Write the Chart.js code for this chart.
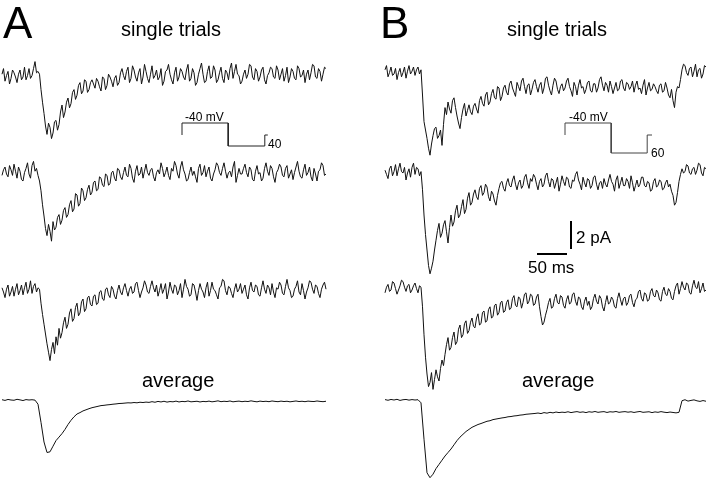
<!DOCTYPE html>
<html>
<head>
<meta charset="utf-8">
<script src="https://cdn.jsdelivr.net/npm/chart.js@4.4.1/dist/chart.umd.min.js"></script>
<style>
  body { margin: 0; background: #fff; }
  #wrap { position: relative; width: 720px; height: 484px; overflow: hidden; }
  #traces { position: absolute; left: 0; top: 0; }
  .lbl { position: absolute; font-family: "Liberation Sans", Arial, sans-serif; color: #000; line-height: 1; white-space: nowrap; }
  .panel { font-size: 44px; }
  .head { font-size: 20px; }
  .small { font-size: 12px; }
  .bar { font-size: 17px; }
</style>
</head>
<body>
<div id="wrap">
  <canvas id="traces" width="720" height="484"></canvas>
  <div class="lbl panel" style="left:3px;top:1px">A</div>
  <div class="lbl panel" style="left:380px;top:1px">B</div>
  <div class="lbl head" style="left:121px;top:19px">single trials</div>
  <div class="lbl head" style="left:507px;top:19px">single trials</div>
  <div class="lbl head" style="left:142px;top:370px">average</div>
  <div class="lbl head" style="left:522px;top:370px">average</div>
  <div class="lbl small" style="left:185px;top:111px">-40 mV</div>
  <div class="lbl small" style="left:268px;top:138px">40</div>
  <div class="lbl small" style="left:569px;top:111px">-40 mV</div>
  <div class="lbl small" style="left:651px;top:147px">60</div>
  <div class="lbl bar" style="left:576px;top:229px">2 pA</div>
  <div class="lbl bar" style="left:528px;top:259px">50 ms</div>
</div>
<script>
// sampling steps (ms): single trials are read finer than the averages
var DT_TRIAL = 2.5;
var DT_AVG = 5;

// currents in pA relative to each trace's baseline
var trialA1 = [
  0.2,0.6,-0.3,0.1,0.4,-0.5,-0.1,0.5,0.3,0.0,-0.4,0.2,0.5,-0.2,0.0,0.7,-0.2,0.1,0.6,-0.1,
  0.1,0.6,1.1,0.3,0.4,0.2,-0.9,-1.8,-2.6,-3.5,-4.1,-3.3,-3.6,-4.4,-4.0,-3.2,-3.1,-3.8,-3.4,-2.5,
  -2.0,-2.9,-2.5,-1.8,-1.5,-2.2,-1.9,-1.1,-0.9,-1.6,-1.3,-0.6,-0.4,-1.2,-1.0,-0.2,-0.3,-1.1,-0.9,-0.4,
  -0.2,-0.5,-0.8,-0.1,-0.3,-0.7,-1.0,0.0,-0.1,-0.9,-0.6,0.2,0.0,-0.3,-0.7,-0.1,0.1,-0.6,-0.4,0.3,
  0.6,0.1,-0.2,0.4,0.7,-0.4,-0.1,0.8,0.5,0.0,-0.3,0.3,0.6,-0.5,0.0,0.9,0.4,-0.1,-0.4,0.2,
  0.8,-0.1,0.1,0.5,-0.2,0.0,0.6,-0.6,-0.3,0.4,0.5,0.9,0.2,-0.2,-0.5,0.3,0.7,-0.3,0.0,0.6,
  0.4,0.0,-0.2,0.5,0.9,-0.3,-0.1,0.6,0.3,-0.6,-0.4,0.2,0.6,1.0,0.2,-0.4,-0.3,0.4,0.8,-0.1,
  0.0,0.8,0.5,-0.4,-0.2,0.3,0.7,-0.1,-0.4,0.5,0.3,-0.2,0.6,1.0,-0.1,0.4,0.9,0.2,0.1,-0.5,
  -0.3,0.2,0.5,-0.1,0.2,0.9,0.8,0.0,-0.2,0.6,0.4,-0.3,0.0,0.5,0.7,-0.2,-0.5,0.1,0.3,0.7,
  0.6,0.0,-0.1,0.8,0.5,-0.2,0.2,0.6,-0.3,0.1,0.7,-0.4,0.0,0.6,0.4,-0.1,-0.2,0.8,0.6,0.0,
  0.1,0.5,-0.4,0.2,0.5,-0.2,0.3,0.9,0.8,0.0,-0.1,0.6,0.4,-0.3,0.2,0.7,0.6
];
var trialA2 = [
  -0.1,0.3,0.5,0.0,-0.2,0.6,0.3,-0.1,0.7,0.2,-0.3,0.5,0.2,-0.4,-0.5,0.1,0.4,0.8,0.0,-0.3,
  0.6,0.9,0.2,0.4,-0.1,-0.5,-1.2,-2.2,-3.0,-3.9,-4.4,-3.6,-4.1,-4.8,-3.4,-4.0,-3.8,-3.1,-2.9,-3.6,
  -3.3,-2.6,-2.4,-3.1,-2.9,-2.2,-1.9,-2.7,-2.5,-1.4,-1.5,-2.3,-2.1,-1.0,-1.2,-1.9,-1.7,-1.1,-0.8,-1.5,
  -1.3,-0.6,-0.5,-1.2,-1.1,-0.2,-0.3,-0.8,-0.9,0.0,-0.1,-0.8,-0.7,0.1,0.2,-0.3,-0.5,0.4,0.3,-0.2,
  -0.4,0.1,0.5,-0.1,-0.2,0.7,0.4,-0.3,-0.6,0.2,0.6,-0.1,0.0,0.5,-0.3,0.2,0.7,0.1,-0.1,0.3,
  0.4,-0.2,-0.5,0.1,0.3,0.0,0.8,0.4,-0.2,0.1,0.5,-0.1,-0.4,0.4,0.2,0.9,0.6,0.0,-0.3,0.5,
  0.9,0.3,0.0,-0.5,-0.4,0.1,0.5,-0.1,0.2,-0.2,-0.6,0.4,0.7,-0.1,0.1,0.6,-0.2,0.2,0.5,-0.3,
  -0.5,0.0,0.3,0.8,0.6,0.1,-0.1,0.4,0.8,0.2,-0.3,0.1,0.2,-0.2,0.5,0.9,-0.6,-0.1,0.4,0.0,
  0.0,0.4,0.7,0.1,-0.2,0.5,0.3,-0.4,-0.5,0.2,0.6,0.0,0.1,-0.5,-0.3,0.4,0.8,0.2,-0.1,0.6,
  0.4,-0.2,-0.6,0.1,0.3,0.7,0.5,-0.1,-0.2,0.4,0.6,-0.3,0.0,0.3,-0.4,0.1,0.5,0.9,0.2,-0.2,
  -0.3,0.3,0.7,-0.1,0.1,0.5,-0.2,-0.5,0.4,0.0,-0.5,0.2,0.3,0.8,0.6,-0.1,0.0
];
var trialA3 = [
  0.3,0.0,-0.4,0.2,0.5,-0.3,0.0,0.4,-0.3,0.2,0.6,-0.2,0.1,0.5,-0.2,0.3,0.7,-0.1,0.2,0.8,
  -0.1,0.4,0.6,0.0,0.3,0.2,-0.8,-1.6,-2.3,-3.0,-3.7,-4.3,-4.9,-4.1,-3.6,-4.4,-3.2,-3.8,-2.6,-3.3,
  -2.9,-2.2,-1.8,-2.6,-2.3,-1.5,-1.2,-2.1,-1.9,-1.1,-0.8,-1.7,-1.5,-0.7,-0.5,-1.4,-1.2,-0.4,-0.3,-0.9,
  -1.0,-0.3,-0.2,-0.9,-0.8,0.0,0.1,-0.5,-0.6,0.2,0.3,-0.2,-0.4,0.4,0.2,-0.3,-0.5,0.1,0.5,0.0,
  -0.2,0.3,0.6,0.1,-0.3,0.2,0.4,-0.1,0.0,0.6,0.7,0.1,-0.4,0.0,0.3,0.8,0.5,0.0,-0.1,0.4,
  0.8,0.3,0.0,0.5,-0.3,0.1,0.6,-0.1,0.2,0.6,-0.5,0.0,0.7,0.2,-0.1,0.5,0.4,-0.2,0.1,0.6,
  -0.4,0.2,0.9,0.4,0.2,-0.3,-0.2,0.6,0.5,0.0,-0.6,0.1,0.6,0.2,0.0,-0.4,0.3,0.7,-0.3,0.1,
  0.7,0.2,0.1,-0.2,-0.5,0.3,0.4,0.9,0.8,0.1,-0.2,0.4,0.3,-0.1,-0.4,0.2,0.6,0.0,0.2,0.6,
  -0.1,0.2,0.5,-0.2,-0.5,0.3,0.7,0.1,0.0,0.5,0.4,-0.2,-0.3,0.3,0.8,0.2,-0.1,0.5,0.3,-0.2,
  0.6,0.0,-0.4,0.3,0.2,0.7,0.5,-0.1,-0.2,0.4,0.9,0.3,0.1,-0.4,-0.3,0.2,0.4,0.8,0.0,-0.2,
  0.6,0.1,-0.5,0.0,0.3,0.8,0.7,0.2,-0.1,0.5,0.4,-0.1,-0.4,0.2,0.5,0.7,0.2
];
var averageA = [
  0.02,-0.03,0.04,0.0,-0.02,0.05,0.01,-0.04,0.03,0.0,
  0.02,-0.01,-0.3,-1.6,-3.0,-3.75,-3.7,-3.3,-2.9,-2.65,
  -2.4,-2.1,-1.75,-1.45,-1.2,-1.0,-0.9,-0.78,-0.7,-0.62,
  -0.55,-0.5,-0.45,-0.4,-0.38,-0.35,-0.33,-0.3,-0.28,-0.25,
  -0.24,-0.22,-0.2,-0.21,-0.18,-0.2,-0.16,-0.18,-0.15,-0.17,
  -0.12,-0.16,-0.1,-0.14,-0.09,-0.15,-0.11,-0.13,-0.08,-0.14,
  -0.1,-0.12,-0.07,-0.13,-0.11,-0.09,-0.14,-0.1,-0.12,-0.08,
  -0.13,-0.1,-0.06,-0.12,-0.09,-0.11,-0.07,-0.13,-0.1,-0.08,
  -0.12,-0.09,-0.11,-0.06,-0.1,-0.13,-0.08,-0.11,-0.09,-0.12,
  -0.07,-0.1,-0.12,-0.08,-0.11,-0.09,-0.13,-0.1,-0.07,-0.11,
  -0.09,-0.12,-0.08,-0.1,-0.11,-0.07,-0.1,-0.12,-0.09
];
var trialB1 = [
  0.3,0.6,-0.2,0.1,0.5,-0.1,0.0,0.4,-0.4,0.1,0.4,-0.2,0.1,0.5,-0.3,0.2,0.6,0.0,0.2,0.5,
  -0.1,0.3,0.5,0.0,0.3,-1.5,-3.4,-4.0,-4.6,-5.3,-5.8,-5.0,-4.4,-3.9,-3.8,-4.6,-4.4,-4.0,-5.1,-3.6,
  -2.4,-2.9,-2.0,-2.5,-2.8,-1.9,-1.7,-2.4,-3.0,-3.5,-3.9,-3.1,-2.5,-2.1,-3.0,-2.6,-2.2,-2.7,-2.9,-2.3,
  -2.1,-2.5,-2.8,-1.9,-1.6,-2.1,-2.3,-1.5,-1.3,-2.2,-2.0,-1.4,-1.1,-1.7,-1.8,-0.9,-1.0,-1.9,-1.6,-1.0,
  -0.8,-1.3,-1.5,-0.7,-0.5,-1.0,-1.3,-1.6,-0.6,-0.9,-1.2,-0.5,-0.3,-0.9,-1.4,-0.8,-0.7,-1.5,-1.1,-0.6,
  -0.4,-0.9,-1.3,-0.8,-0.6,-1.4,-1.0,-0.3,-0.2,-0.8,-1.2,-1.5,-0.8,-0.3,-0.5,-1.1,-1.4,-0.9,-0.7,-1.2,
  -1.0,-0.5,-0.3,-0.9,-1.2,-1.6,-0.6,-0.9,-1.5,-0.8,-0.4,-1.0,-0.9,-1.4,-1.1,-0.6,-0.5,-1.2,-1.3,-0.7,
  -0.7,-1.3,-1.0,-0.4,-0.2,-0.8,-1.2,-0.6,-0.8,-1.3,-0.5,-0.9,-1.4,-1.0,-0.6,-1.2,-1.1,-0.5,-0.4,-1.0,
  -1.2,-0.6,-0.7,-1.1,-0.9,-0.5,-1.3,-0.8,-0.5,-1.1,-1.0,-1.4,-0.8,-0.4,-1.5,-1.0,-0.6,-1.2,-1.1,-0.7,
  -0.9,-1.2,-1.4,-0.8,-0.7,-1.3,-1.2,-0.6,-1.0,-1.5,-1.7,-1.1,-1.9,-2.4,-1.3,-0.9,-1.0,-0.4,0.3,0.7,
  0.6,0.1,-0.1,0.4,0.5,-0.2,0.2,0.7,-0.2,0.3,0.4,-0.3,0.0,0.6,0.5
];
var trialB2 = [
  0.2,-0.1,-0.4,0.3,0.5,-0.2,0.1,0.6,-0.2,0.3,0.7,0.1,0.0,0.4,-0.5,0.0,0.3,-0.3,0.4,0.7,
  -0.1,0.4,0.3,-0.2,0.1,-1.2,-3.0,-4.4,-5.5,-6.6,-7.2,-6.8,-6.3,-5.5,-4.8,-4.1,-3.6,-4.6,-4.3,-3.7,
  -3.4,-4.2,-5.0,-3.9,-3.0,-3.8,-3.5,-2.7,-2.3,-3.2,-3.0,-2.4,-1.9,-2.9,-2.6,-1.8,-1.4,-2.3,-2.1,-1.5,
  -1.2,-1.7,-1.9,-1.1,-0.9,-1.6,-1.4,-0.8,-1.0,-1.7,-2.0,-1.3,-1.5,-2.0,-2.3,-1.6,-1.1,-0.7,-0.6,-1.1,
  -1.3,-0.7,-0.4,-0.9,-1.0,-0.5,-0.2,-0.8,-1.2,-0.7,-0.5,-1.1,-0.9,-0.3,-0.1,-0.7,-1.1,-0.4,-0.6,-0.1,
  -0.3,-0.8,-1.2,-0.6,-0.4,-1.0,-0.8,-0.2,0.0,-0.6,-1.0,-0.4,-0.5,-1.1,-0.7,-0.3,-1.3,-0.8,-0.2,-0.6,
  -0.9,-0.3,-0.4,-1.0,-1.1,-0.5,-0.6,-0.1,0.1,-0.5,-0.8,-1.2,-0.3,-0.7,-1.0,-0.4,-0.5,-1.1,-0.9,-0.3,
  -0.2,-0.8,-1.2,-0.7,-0.6,-1.1,-0.4,-0.8,-1.0,-0.5,-0.1,-0.6,-0.8,-1.3,-0.5,-0.2,-1.1,-0.7,-0.3,-0.9,
  -0.9,-0.4,-0.6,-1.1,-0.2,-0.7,-1.3,-0.9,-0.5,-1.0,-0.8,-0.3,-0.3,-0.9,-1.0,-0.6,-0.7,-1.3,-1.2,-0.6,
  -0.4,-1.0,-0.9,-0.5,-0.6,-1.2,-1.1,-0.7,-0.5,-1.0,-0.8,-1.3,-1.6,-2.3,-2.1,-1.4,-0.6,-0.1,0.3,0.0,
  0.1,0.6,0.5,0.0,-0.1,0.3,0.4,-0.1,0.2,0.7,0.6,0.0,-0.2,0.4,0.3
];
var trialB3 = [
  -0.2,0.2,0.4,-0.1,0.0,0.6,0.5,0.1,-0.3,0.0,0.3,0.7,0.6,0.2,-0.1,0.3,0.4,-0.2,0.0,0.3,
  0.5,0.1,-0.2,0.3,0.2,-1.2,-3.2,-4.8,-6.0,-6.9,-6.6,-5.9,-7.1,-6.4,-5.7,-6.2,-6.5,-5.6,-5.0,-5.4,
  -4.6,-3.9,-3.4,-4.3,-4.1,-3.4,-3.0,-3.9,-3.7,-2.8,-2.5,-3.4,-3.2,-2.4,-2.2,-3.1,-2.9,-2.3,-2.0,-2.6,
  -2.7,-2.0,-1.7,-2.5,-2.4,-1.6,-1.5,-2.3,-2.2,-1.4,-1.2,-2.0,-1.9,-1.1,-1.0,-1.8,-1.6,-0.9,-0.8,-1.6,
  -1.5,-0.9,-0.7,-1.4,-1.3,-0.6,-0.4,-1.1,-1.2,-0.5,-0.6,-1.3,-0.9,-0.3,-0.2,-1.0,-0.8,-0.3,-0.4,-1.1,
  -1.0,-0.5,-0.3,-1.2,-1.9,-2.5,-2.3,-1.8,-1.4,-0.9,-0.6,-1.3,-1.2,-0.6,-0.3,-0.9,-1.0,-0.4,-0.5,-1.1,
  -1.3,-0.7,-0.4,-1.0,-0.9,-0.3,-0.2,-0.8,-1.1,-0.5,-0.6,-1.2,-1.4,-0.8,-0.5,-1.1,-0.8,-1.4,-1.2,-0.6,
  -0.3,-0.8,-1.0,-0.4,-0.6,-1.2,-1.5,-0.9,-0.4,-1.0,-0.9,-0.5,-0.7,-1.2,-1.3,-0.6,-0.2,-0.7,-1.1,-0.6,
  -0.5,-1.1,-0.9,-0.4,-0.3,-0.9,-1.2,-0.7,-0.6,-0.1,0.0,-0.6,-0.8,-0.2,-0.3,-0.8,-0.7,-0.1,0.1,-0.4,
  -0.5,0.0,-0.2,-0.7,-0.8,-0.1,0.2,-0.3,-0.4,0.1,-0.1,-0.6,-0.7,-0.1,0.3,0.5,-0.3,0.1,0.6,0.2,
  0.0,0.5,0.4,-0.2,-0.3,0.3,0.7,0.2,0.1,0.6,-0.2,0.1,0.5,-0.1,0.0
];
var averageB = [
  0.03,-0.02,0.04,0.0,0.05,-0.03,0.02,0.04,-0.01,0.03,
  0.0,0.02,-0.2,-2.8,-5.2,-5.55,-5.3,-4.9,-4.6,-4.3,
  -4.0,-3.75,-3.5,-3.2,-2.9,-2.65,-2.45,-2.25,-2.1,-1.95,
  -1.85,-1.75,-1.68,-1.6,-1.52,-1.48,-1.4,-1.36,-1.32,-1.28,
  -1.25,-1.2,-1.18,-1.14,-1.12,-1.08,-1.06,-1.02,-1.0,-0.98,
  -0.96,-0.93,-0.97,-0.9,-0.94,-0.88,-0.92,-0.86,-0.9,-0.87,
  -0.89,-0.84,-0.9,-0.86,-0.83,-0.88,-0.85,-0.9,-0.84,-0.87,
  -0.82,-0.88,-0.85,-0.83,-0.89,-0.84,-0.86,-0.82,-0.88,-0.85,
  -0.83,-0.87,-0.84,-0.89,-0.85,-0.82,-0.88,-0.86,-0.84,-0.9,
  -0.85,-0.88,-0.83,-0.87,-0.9,-0.86,-0.89,-0.92,-0.88,-0.05,
  0.02,-0.08,-0.03,0.01,-0.06,-0.1,-0.04,-0.09
];

// voltage protocols (ms, mV)
var protoTimesA = [0, 0, 77, 77, 138, 138, 143];
var protoVoltsA = [-64, -40, -40, -86, -86, -64, -64];
var protoTimesB = [0, 0, 77, 77, 137, 137, 145];
var protoVoltsB = [-64, -40, -40, -100, -100, -64, -64];

// scale bars
var barMs = 50;
var barPa = 2;

// ---- layout (pixels of the 720x484 figure) ----
var PX_PER_MS = 0.6, PX_PER_PA = 14, PX_PER_MV = 0.5;
var traceLeft = { A: 2, B: 385 };
var baselineA = [77, 174, 292, 400];
var baselineB = [74, 173, 290, 400];
var protoLeft = { A: 182, B: 565 };
var protoTopPx = 123;          // where -40 mV sits
var vBarPos = { x: 571, y: 221 };
var hBarPos = { x: 537, y: 254 };

function msAt(px) { return px / PX_PER_MS; }
function paAt(px) { return -px / PX_PER_PA; }

function traceData(values, dt, leftPx, basePx) {
    var t0 = msAt(leftPx), off = paAt(basePx);
    return values.map(function(v, i) { return { x: t0 + i * dt, y: off + v }; });
}

function protoData(times, volts, leftPx) {
    var t0 = msAt(leftPx);
    return times.map(function(t, i) { return { x: t0 + t, y: volts[i] }; });
}

function line(data, width, color, axis) {
    return {
        data: data,
        showLine: true,
        borderColor: color || '#111',
        borderWidth: width || 1,
        pointRadius: 0,
        tension: 0,
        yAxisID: axis || 'y'
    };
}

var datasets = [
    line(traceData(trialA1, DT_TRIAL, traceLeft.A, baselineA[0])),
    line(traceData(trialA2, DT_TRIAL, traceLeft.A, baselineA[1])),
    line(traceData(trialA3, DT_TRIAL, traceLeft.A, baselineA[2])),
    line(traceData(averageA, DT_AVG, traceLeft.A, baselineA[3])),
    line(traceData(trialB1, DT_TRIAL, traceLeft.B, baselineB[0])),
    line(traceData(trialB2, DT_TRIAL, traceLeft.B, baselineB[1])),
    line(traceData(trialB3, DT_TRIAL, traceLeft.B, baselineB[2])),
    line(traceData(averageB, DT_AVG, traceLeft.B, baselineB[3])),
    line(protoData(protoTimesA, protoVoltsA, protoLeft.A), 1, '#222', 'yV'),
    line(protoData(protoTimesB, protoVoltsB, protoLeft.B), 1, '#444', 'yV'),
    // vertical scale bar: 2 pA
    line([{ x: msAt(vBarPos.x), y: paAt(vBarPos.y) },
          { x: msAt(vBarPos.x), y: paAt(vBarPos.y) - barPa }], 2, '#000'),
    // horizontal scale bar: 50 ms
    line([{ x: msAt(hBarPos.x), y: paAt(hBarPos.y) },
          { x: msAt(hBarPos.x) + barMs, y: paAt(hBarPos.y) }], 2, '#000')
];

var canvas = document.getElementById('traces');
var vMax = -40 + protoTopPx / PX_PER_MV;

new Chart(canvas.getContext('2d'), {
    type: 'scatter',
    data: { datasets: datasets },
    options: {
        responsive: false,
        animation: false,
        events: [],
        layout: { padding: 0 },
        plugins: { legend: { display: false }, tooltip: { enabled: false } },
        scales: {
            x: { type: 'linear', display: false, min: 0, max: 720 / PX_PER_MS },
            y: { type: 'linear', display: false, min: -484 / PX_PER_PA, max: 0 },
            yV: { type: 'linear', display: false, min: vMax - 484 / PX_PER_MV, max: vMax }
        }
    }
});
</script>
</body>
</html>
